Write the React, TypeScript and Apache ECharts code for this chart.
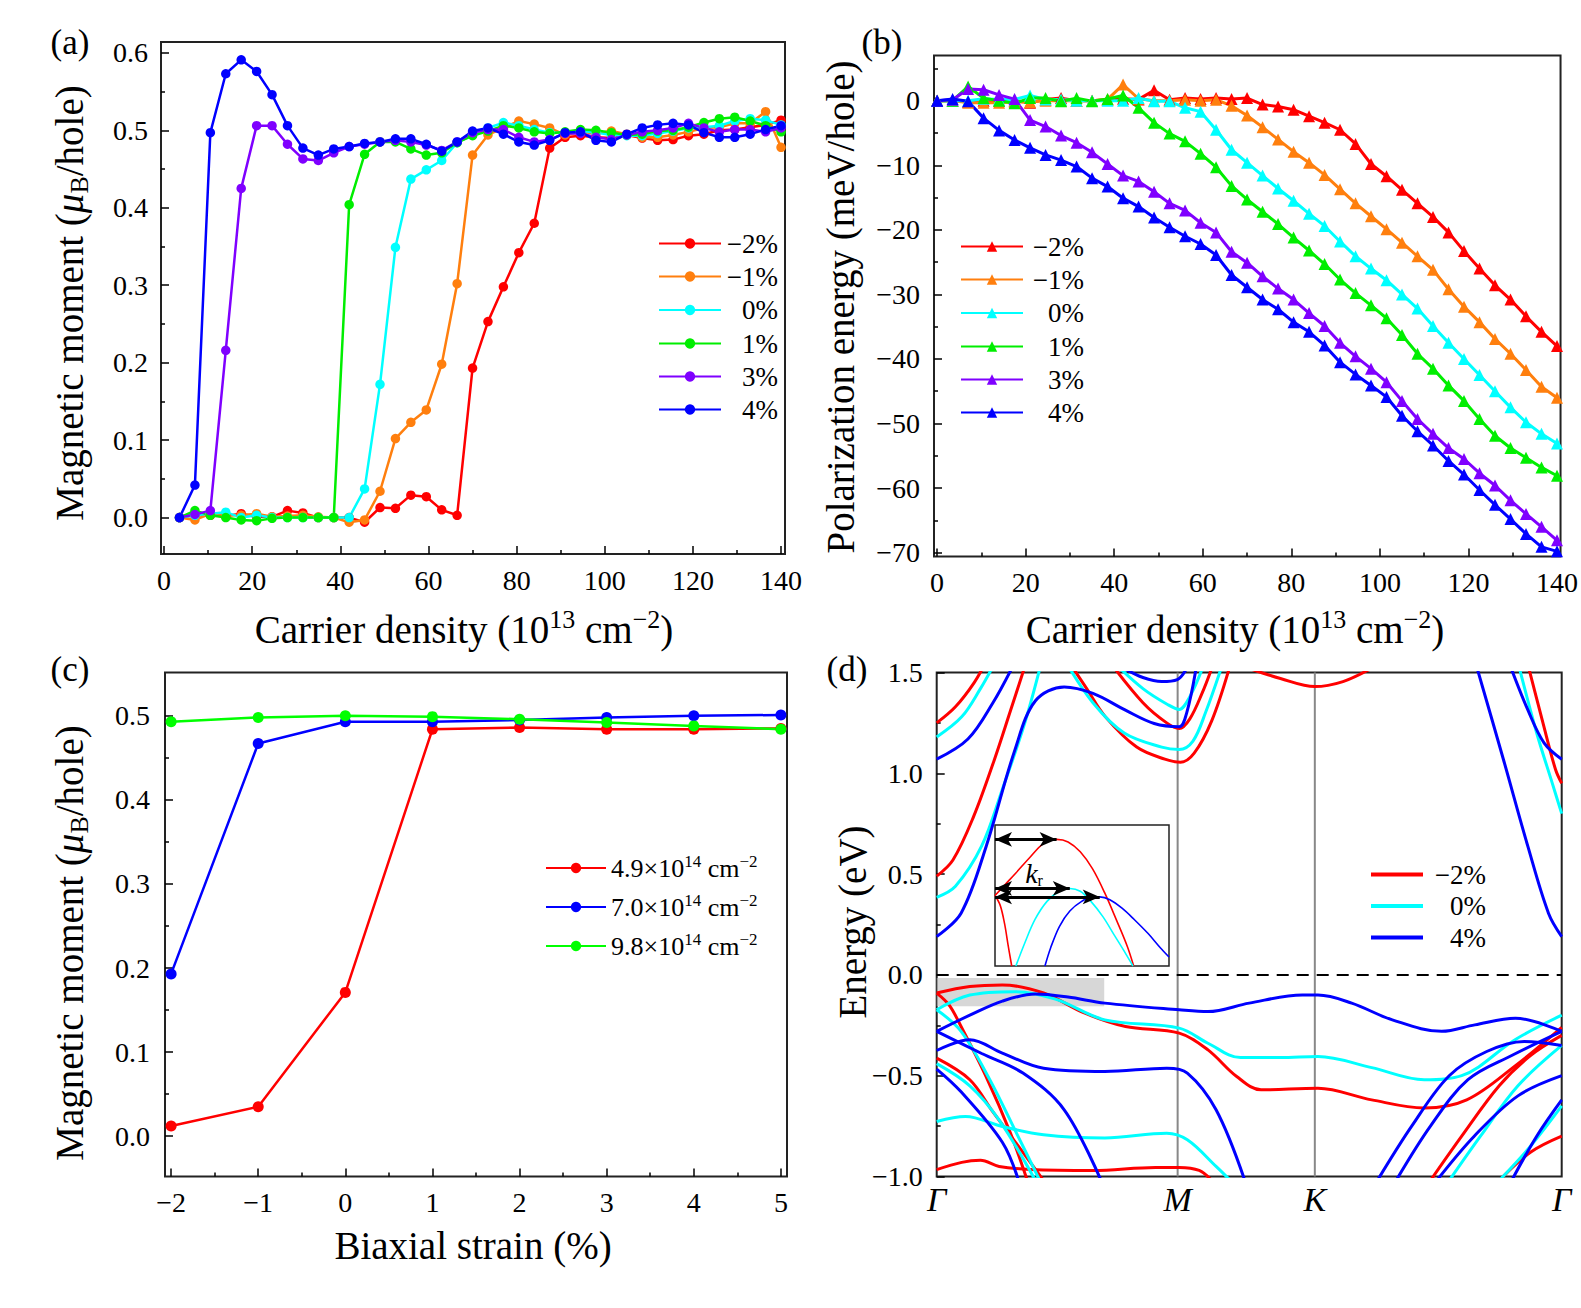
import React, { useEffect, useRef } from "react";
import * as echarts from "echarts";

const SERIF = '"Liberation Serif", "DejaVu Serif", serif';

const C_RED = "#ff0000";
const C_ORANGE = "#ff7f0e";
const C_CYAN = "#00ffff";
const C_GREEN = "#00ee00";
const C_PURPLE = "#7f00ff";
const C_BLUE = "#0000ff";

// ---------------- (a) magnetic moment vs carrier density ----------------
const densityA = [3.5, 7, 10.5, 14, 17.5, 21, 24.5, 28, 31.5, 35, 38.5, 42, 45.5, 49, 52.5, 56, 59.5, 63, 66.5, 70, 73.5, 77, 80.5, 84, 87.5, 91, 94.5, 98, 101.5, 105, 108.5, 112, 115.5, 119, 122.5, 126, 129.5, 133, 136.5, 140];
const momentM2 = [0, 0.003, 0.003, 0.002, 0.005, 0.001, 0.001, 0.009, 0.006, 0, 0, 0, -0.006, 0.013, 0.012, 0.029, 0.027, 0.01, 0.003, 0.193, 0.253, 0.298, 0.342, 0.38, 0.477, 0.491, 0.493, 0.491, 0.49, 0.494, 0.49, 0.487, 0.488, 0.493, 0.495, 0.5, 0.501, 0.504, 0.507, 0.513];
const momentM1 = [0, -0.003, 0.005, 0.003, 0.003, 0.005, 0.001, 0.002, 0.003, 0.001, 0, -0.006, -0.003, 0.034, 0.102, 0.123, 0.139, 0.198, 0.302, 0.468, 0.494, 0.503, 0.512, 0.508, 0.503, 0.494, 0.498, 0.496, 0.499, 0.495, 0.491, 0.491, 0.494, 0.498, 0.503, 0.504, 0.509, 0.509, 0.524, 0.478];
const moment0 = [0, 0.003, 0.005, 0.007, 0, 0.003, 0, 0, 0, 0, 0, 0, 0.037, 0.172, 0.349, 0.437, 0.449, 0.461, 0.484, 0.494, 0.503, 0.51, 0.506, 0.501, 0.497, 0.497, 0.499, 0.497, 0.494, 0.493, 0.493, 0.496, 0.499, 0.503, 0.504, 0.506, 0.512, 0.515, 0.513, 0.507];
const momentP1 = [0, 0.009, 0.003, 0, -0.003, -0.004, -0.001, 0, 0, 0, 0, 0.404, 0.469, 0.485, 0.485, 0.476, 0.468, 0.471, 0.484, 0.493, 0.499, 0.506, 0.503, 0.498, 0.496, 0.498, 0.501, 0.5, 0.497, 0.494, 0.495, 0.499, 0.5, 0.504, 0.51, 0.515, 0.517, 0.512, 0.506, 0.498];
const momentP3 = [0, 0.004, 0.009, 0.216, 0.425, 0.506, 0.506, 0.482, 0.463, 0.461, 0.471, 0.479, 0.482, 0.485, 0.487, 0.485, 0.481, 0.474, 0.485, 0.497, 0.501, 0.501, 0.491, 0.485, 0.488, 0.496, 0.496, 0.491, 0.488, 0.494, 0.498, 0.5, 0.503, 0.509, 0.503, 0.498, 0.501, 0.501, 0.498, 0.503];
const momentP4 = [0, 0.042, 0.497, 0.573, 0.591, 0.576, 0.546, 0.506, 0.477, 0.468, 0.476, 0.479, 0.483, 0.485, 0.489, 0.489, 0.482, 0.473, 0.485, 0.499, 0.503, 0.495, 0.485, 0.481, 0.487, 0.497, 0.498, 0.487, 0.485, 0.495, 0.503, 0.507, 0.509, 0.507, 0.497, 0.491, 0.491, 0.495, 0.501, 0.506];

// ---------------- (b) polarization energy vs carrier density ----------------
const densityB = [0, 3.5, 7, 10.5, 14, 17.5, 21, 24.5, 28, 31.5, 35, 38.5, 42, 45.5, 49, 52.5, 56, 59.5, 63, 66.5, 70, 73.5, 77, 80.5, 84, 87.5, 91, 94.5, 98, 101.5, 105, 108.5, 112, 115.5, 119, 122.5, 126, 129.5, 133, 136.5, 140];
const energyM2 = [0, 0, -0.2, 0, 0, 0, -0.3, 0.2, 0.4, 0, 0, 0.2, 0.3, 0.2, 1.6, 0.15, 0.4, 0.25, 0.4, 0.25, 0.4, -0.6, -0.9, -1.4, -2.4, -3.4, -4.5, -6.7, -9.8, -11.7, -13.8, -15.9, -18.0, -20.4, -23.3, -26.0, -28.6, -30.8, -33.4, -35.8, -38.0];
const energyM1 = [0, 0, -0.3, -0.3, -0.3, -0.2, -0.2, 0, 0, 0, 0, 0.2, 2.5, 0.3, 0, 0, 0.15, 0, 0.15, -0.8, -2.3, -4.1, -6.0, -7.9, -9.6, -11.5, -13.7, -15.9, -17.9, -19.9, -22.0, -24.1, -26.2, -29.2, -31.9, -34.3, -36.9, -39.2, -41.7, -44.3, -46.0];
const energy0 = [0, 0, 0, 0.3, 0.2, 0.2, 0.8, 0.2, 0.2, 0, 0, 0, 0, 0.4, -0.1, -0.1, -1.1, -1.7, -4.5, -7.6, -9.6, -11.6, -13.6, -15.5, -17.5, -19.4, -21.8, -24.1, -26.0, -27.8, -30.0, -32.2, -34.9, -37.5, -40.0, -42.5, -45.0, -47.5, -49.8, -51.6, -53.1];
const energyP1 = [0, 0, 2.2, 0.4, 0, -0.4, 0.4, 0.4, -0.1, 0.4, -0.1, 0.25, 0.8, -1.1, -3.4, -5.1, -6.3, -8.2, -10.3, -13.2, -15.3, -17.2, -19.1, -21.2, -23.2, -25.3, -27.7, -29.8, -31.7, -33.7, -36.3, -39.2, -41.5, -44.1, -46.5, -49.3, -51.9, -53.8, -55.3, -56.8, -58.1];
const energyP3 = [0, 0.15, 1.8, 1.7, 0.9, 0.25, -3.0, -4.0, -5.4, -6.5, -8.0, -9.8, -11.6, -12.5, -14.1, -15.9, -17.0, -18.9, -20.4, -23.4, -25.1, -27.2, -29.1, -30.8, -32.9, -34.9, -37.5, -39.6, -41.5, -43.6, -46.5, -49.3, -51.6, -53.8, -55.5, -57.7, -59.6, -61.9, -64.0, -66.0, -68.1];
const energyP4 = [0, 0.25, -0.1, -2.7, -4.6, -6.1, -7.3, -8.4, -9.2, -10.2, -12.0, -13.3, -15.1, -16.4, -18.1, -19.6, -21.0, -22.2, -23.9, -27.0, -28.9, -30.8, -32.3, -34.3, -35.8, -37.9, -40.5, -42.4, -44.1, -45.9, -48.8, -51.2, -53.4, -55.8, -57.9, -60.3, -62.6, -64.8, -67.1, -69.1, -69.8];

// ---------------- (c) magnetic moment vs biaxial strain ----------------
const strainC = [-2, -1, 0, 1, 2, 3, 4, 5];
const moment49 = [0.012, 0.035, 0.171, 0.484, 0.486, 0.484, 0.484, 0.485];
const moment70 = [0.193, 0.467, 0.493, 0.493, 0.495, 0.498, 0.5, 0.501];
const moment98 = [0.493, 0.498, 0.5, 0.499, 0.496, 0.492, 0.488, 0.484];

// ---------------- (d) band structure (k path fraction, energy eV) ----------------
const kPathTicks = [0, 0.3855, 0.605, 1];
const kPathLabels = ["Γ", "M", "K", "Γ"];

const redBands = [
  [[0, 1.25], [0.03, 1.33], [0.06, 1.45], [0.08, 1.56]],
  [[0, 0.49], [0.026, 0.57], [0.059, 0.785], [0.092, 1.065], [0.118, 1.31], [0.14, 1.52]],
  [[0.21, 1.56], [0.24, 1.42], [0.27, 1.28], [0.32, 1.13], [0.365, 1.07], [0.39, 1.055], [0.412, 1.1], [0.44, 1.26], [0.468, 1.52]],
  [[0.275, 1.56], [0.33, 1.35], [0.368, 1.25], [0.388, 1.222], [0.405, 1.27], [0.425, 1.4], [0.44, 1.52]],
  [[0.5, 1.52], [0.55, 1.47], [0.605, 1.43], [0.65, 1.455], [0.695, 1.52]],
  [[0.945, 1.55], [0.97, 1.25], [0.99, 1.02], [1.0, 0.95]],
  [[0, -0.09], [0.053, -0.058], [0.105, -0.05], [0.171, -0.09], [0.237, -0.19], [0.302, -0.256], [0.388, -0.289], [0.434, -0.372], [0.48, -0.504], [0.519, -0.57], [0.61, -0.562], [0.696, -0.62], [0.78, -0.66], [0.848, -0.62], [0.926, -0.45], [1.0, -0.26]],
  [[0, -0.09], [0.02, -0.15], [0.039, -0.256], [0.079, -0.504], [0.118, -0.785], [0.145, -1.02]],
  [[0, -0.413], [0.053, -0.52], [0.09, -0.68], [0.138, -0.88], [0.171, -1.02]],
  [[0, -0.966], [0.04, -0.93], [0.07, -0.92], [0.1, -0.95], [0.15, -0.965], [0.25, -0.97], [0.35, -0.955], [0.388, -0.955], [0.42, -0.97], [0.44, -1.02]],
  [[0.79, -1.02], [0.84, -0.8], [0.9, -0.55], [0.95, -0.4], [1.0, -0.3]],
  [[0.9, -1.02], [0.95, -0.88], [1.0, -0.8]],
];
const cyanBands = [
  [[0, 1.18], [0.04, 1.28], [0.07, 1.42], [0.09, 1.53]],
  [[0, 0.385], [0.03, 0.44], [0.072, 0.64], [0.105, 0.92], [0.14, 1.24], [0.165, 1.52]],
  [[0.205, 1.56], [0.25, 1.35], [0.3, 1.2], [0.36, 1.13], [0.388, 1.118], [0.41, 1.16], [0.43, 1.3], [0.455, 1.52]],
  [[0.28, 1.56], [0.33, 1.42], [0.37, 1.34], [0.388, 1.317], [0.405, 1.38], [0.425, 1.52]],
  [[0.93, 1.55], [0.96, 1.2], [0.985, 0.95], [1.0, 0.8]],
  [[0, -0.173], [0.053, -0.1], [0.125, -0.083], [0.19, -0.12], [0.269, -0.223], [0.388, -0.264], [0.434, -0.339], [0.486, -0.41], [0.55, -0.41], [0.61, -0.405], [0.696, -0.46], [0.78, -0.52], [0.84, -0.5], [0.926, -0.32], [1.0, -0.2]],
  [[0, -0.173], [0.039, -0.28], [0.085, -0.52], [0.13, -0.8], [0.165, -1.02]],
  [[0, -0.44], [0.053, -0.55], [0.1, -0.72], [0.158, -1.02]],
  [[0, -0.727], [0.046, -0.702], [0.105, -0.752], [0.171, -0.793], [0.269, -0.809], [0.368, -0.785], [0.401, -0.818], [0.447, -0.95], [0.47, -1.02]],
  [[0.82, -1.02], [0.87, -0.8], [0.93, -0.55], [1.0, -0.35]],
  [[0.9, -1.02], [0.95, -0.85], [1.0, -0.65]],
];
const blueBands = [
  [[0, 1.07], [0.05, 1.17], [0.09, 1.35], [0.12, 1.52]],
  [[0, 0.19], [0.039, 0.306], [0.079, 0.636], [0.125, 1.115], [0.158, 1.36], [0.204, 1.428], [0.25, 1.396], [0.302, 1.313], [0.348, 1.247], [0.388, 1.231], [0.4, 1.3], [0.415, 1.52]],
  [[0.3, 1.52], [0.33, 1.475], [0.36, 1.455], [0.385, 1.465], [0.4, 1.52]],
  [[0.862, 1.55], [0.907, 1.066], [0.946, 0.636], [0.979, 0.305], [1.0, 0.19]],
  [[0.918, 1.53], [0.946, 1.313], [0.972, 1.15], [1.0, 1.07]],
  [[0, -0.28], [0.053, -0.2], [0.105, -0.13], [0.158, -0.095], [0.21, -0.11], [0.269, -0.14], [0.388, -0.173], [0.434, -0.182], [0.5, -0.14], [0.585, -0.1], [0.61, -0.1], [0.664, -0.14], [0.729, -0.223], [0.808, -0.28], [0.861, -0.248], [0.926, -0.215], [1.0, -0.28]],
  [[0, -0.375], [0.053, -0.322], [0.105, -0.388], [0.171, -0.463], [0.269, -0.479], [0.368, -0.463], [0.401, -0.487], [0.447, -0.669], [0.493, -1.02]],
  [[0, -0.28], [0.072, -0.39], [0.138, -0.487], [0.204, -0.669], [0.263, -1.02]],
  [[0, -0.467], [0.039, -0.58], [0.105, -0.83], [0.131, -1.02]],
  [[0.705, -1.02], [0.76, -0.75], [0.82, -0.5], [0.88, -0.38], [0.94, -0.33], [1.0, -0.35]],
  [[0.735, -1.02], [0.79, -0.75], [0.85, -0.52], [0.92, -0.4], [1.0, -0.28]],
  [[0.8, -1.02], [0.86, -0.8], [0.93, -0.6], [1.0, -0.5]],
  [[0.92, -1.02], [0.96, -0.8], [1.0, -0.62]],
];

// inset (zoom of the valence-band top near Γ)
const insetRedSteep = [[0, 0.5], [0.03, 0.43], [0.055, 0.3], [0.075, 0.15], [0.096, 0]];
const insetRed = [[0, 0.5], [0.06, 0.58], [0.12, 0.66], [0.2, 0.77], [0.28, 0.87], [0.354, 0.898], [0.42, 0.88], [0.49, 0.81], [0.56, 0.69], [0.63, 0.52], [0.7, 0.32], [0.76, 0.14], [0.797, 0]];
const insetCyan = [[0.12, 0], [0.17, 0.16], [0.23, 0.33], [0.3, 0.46], [0.37, 0.53], [0.43, 0.55], [0.49, 0.53], [0.55, 0.46], [0.62, 0.35], [0.69, 0.21], [0.75, 0.09], [0.793, 0]];
const insetBlue = [[0.287, 0], [0.32, 0.13], [0.37, 0.28], [0.43, 0.39], [0.5, 0.46], [0.56, 0.49], [0.602, 0.49], [0.66, 0.47], [0.73, 0.41], [0.8, 0.33], [0.88, 0.23], [0.95, 0.13], [1.0, 0.064]];
const insetArrows = [
  [[0, 0.898], [0.354, 0.898]],
  [[0, 0.55], [0.43, 0.55]],
  [[0, 0.49], [0.602, 0.49]],
];

// tick values
const ticksDensity = [0, 20, 40, 60, 80, 100, 120, 140];
const minorDensity = [10, 30, 50, 70, 90, 110, 130];
const ticksMomentA = [0, 0.1, 0.2, 0.3, 0.4, 0.5, 0.6];
const minorMomentA = [-0.05, 0.05, 0.15, 0.25, 0.35, 0.45, 0.55];
const ticksEnergyB = [0, -10, -20, -30, -40, -50, -60, -70];
const minorEnergyB = [5, -5, -15, -25, -35, -45, -55, -65];
const ticksStrain = [-2, -1, 0, 1, 2, 3, 4, 5];
const minorStrain = [-1.5, -0.5, 0.5, 1.5, 2.5, 3.5, 4.5];
const ticksMomentC = [0, 0.1, 0.2, 0.3, 0.4, 0.5];
const minorMomentC = [0.05, 0.15, 0.25, 0.35, 0.45];
const ticksBand = [-1, -0.5, 0, 0.5, 1, 1.5];
const minorBand = [-0.75, -0.25, 0.25, 0.75, 1.25];

const fmt1 = (v: number) => (v < 0 ? "−" : "") + Math.abs(v).toFixed(1);
const fmt0 = (v: number) => (v < 0 ? "−" : "") + Math.abs(Math.round(v)).toString();

const TICK_FS = 28;

function zip(xs: number[], ys: number[]) {
  return xs.map((x, i) => [x, ys[i]]);
}

function mainAxis(dim: "x" | "y", gridIndex: number, min: number, max: number, majors: number[], fmt: (v: number) => string, margin: number, extra: any = {}) {
  return {
    type: "value",
    gridIndex,
    min,
    max,
    position: dim === "x" ? "bottom" : "left",
    axisLine: { show: false, onZero: false },
    splitLine: { show: false },
    axisTick: { show: true, inside: true, length: 8, customValues: majors, lineStyle: { color: "#000", width: 1.5 } },
    axisLabel: { show: true, customValues: majors, formatter: fmt, fontFamily: SERIF, fontSize: TICK_FS, color: "#000", margin },
    ...extra,
  };
}
function minorAxis(dim: "x" | "y", gridIndex: number, min: number, max: number, minors: number[]) {
  return {
    type: "value",
    gridIndex,
    min,
    max,
    position: dim === "x" ? "bottom" : "left",
    axisLine: { show: false, onZero: false },
    splitLine: { show: false },
    axisTick: { show: true, inside: true, length: 4, customValues: minors, lineStyle: { color: "#000", width: 1.5 } },
    axisLabel: { show: false },
  };
}

function markerSeries(name: string, data: number[][], color: string, xi: number, yi: number, symbol: string, size: number, width: number) {
  return {
    type: "line",
    name,
    xAxisIndex: xi,
    yAxisIndex: yi,
    data,
    symbol,
    symbolSize: size,
    showAllSymbol: true,
    lineStyle: { color, width },
    itemStyle: { color },
    silent: true,
    clip: true,
  };
}

function bandSeries(name: string, data: number[][], color: string, xi = 6, yi = 6, width = 3) {
  return {
    type: "line",
    name,
    xAxisIndex: xi,
    yAxisIndex: yi,
    data,
    symbol: "none",
    smooth: 0.35,
    lineStyle: { color, width },
    itemStyle: { color },
    silent: true,
    clip: true,
  };
}

function legendItem(name: string, label: string, left: number, rowY: number, iconW: number, textW: number, align: "left" | "right", fontSize = 27, extra: any = {}) {
  return {
    show: true,
    data: [name],
    left,
    top: rowY - 15,
    orient: "horizontal",
    itemWidth: iconW,
    itemHeight: 13,
    itemGap: 0,
    padding: 0,
    selectedMode: false,
    formatter: () => label,
    textStyle: {
      fontFamily: SERIF,
      fontSize,
      color: "#000",
      rich: {
        r: { width: textW, align, fontFamily: SERIF, fontSize, lineHeight: 30, color: "#000" },
        n: { fontFamily: SERIF, fontSize: 26, lineHeight: 30, color: "#000" },
        s: { fontFamily: SERIF, fontSize: 17, lineHeight: 17, verticalAlign: "top", color: "#000" },
      },
    },
    ...extra,
  };
}

function text(x: number, y: number, t: string, fontSize: number, rich: any = null, rotation = 0, extra: any = {}) {
  return {
    type: "text",
    x,
    y,
    rotation,
    silent: true,
    z: 50,
    style: {
      text: t,
      fontFamily: SERIF,
      fontSize,
      fill: "#000",
      align: "center",
      verticalAlign: "middle",
      textAlign: "center",
      textVerticalAlign: "middle",
      ...(rich ? { rich } : {}),
      ...extra,
    },
  };
}

const TITLE_FS = 39;
const titleRich = {
  n: { fontFamily: SERIF, fontSize: TITLE_FS, lineHeight: 46, color: "#000" },
  i: { fontFamily: SERIF, fontSize: TITLE_FS, lineHeight: 46, fontStyle: "italic", color: "#000" },
  b: { fontFamily: SERIF, fontSize: 26, lineHeight: 28, verticalAlign: "bottom", color: "#000" },
  s: { fontFamily: SERIF, fontSize: 26, lineHeight: 26, verticalAlign: "top", color: "#000" },
};

function buildOption(): any {
  const grids = [
    { left: 161, top: 42, width: 624, height: 512 },
    { left: 934, top: 55.5, width: 628, height: 501 },
    { left: 165, top: 672.5, width: 622, height: 504 },
    { left: 936.7, top: 672.5, width: 625, height: 504 },
    { left: 995, top: 825, width: 174, height: 141 },
  ].map((g, i) => ({
    ...g,
    show: true,
    borderColor: "#222",
    borderWidth: i === 4 ? 1.5 : 2,
    backgroundColor: i === 4 ? "#fff" : "transparent",
    containLabel: false,
  }));

  const xAxis = [
    mainAxis("x", 0, -0.7, 140.9, ticksDensity, fmt0, 12),
    minorAxis("x", 0, -0.7, 140.9, minorDensity),
    mainAxis("x", 1, -0.7, 140.8, ticksDensity, fmt0, 12),
    minorAxis("x", 1, -0.7, 140.8, minorDensity),
    mainAxis("x", 2, -2.07, 5.07, ticksStrain, fmt0, 12),
    minorAxis("x", 2, -2.07, 5.07, minorStrain),
    {
      type: "value",
      gridIndex: 3,
      min: 0,
      max: 1,
      position: "bottom",
      axisLine: { show: false, onZero: false },
      splitLine: { show: false },
      axisTick: { show: false },
      axisLabel: {
        show: true,
        customValues: kPathTicks,
        formatter: (v: number) => kPathLabels[kPathTicks.indexOf(v)] ?? "",
        fontFamily: SERIF,
        fontSize: 34,
        fontStyle: "italic",
        color: "#000",
        margin: 6,
      },
    },
    { type: "value", gridIndex: 4, min: 0, max: 1, show: false, axisLine: { onZero: false } },
  ];

  const yAxis = [
    mainAxis("y", 0, -0.047, 0.614, ticksMomentA, fmt1, 13),
    minorAxis("y", 0, -0.047, 0.614, minorMomentA),
    mainAxis("y", 1, -70.6, 7, ticksEnergyB, fmt0, 14),
    minorAxis("y", 1, -70.6, 7, minorEnergyB),
    mainAxis("y", 2, -0.048, 0.5515, ticksMomentC, fmt1, 15),
    minorAxis("y", 2, -0.048, 0.5515, minorMomentC),
    mainAxis("y", 3, -1, 1.5, ticksBand, fmt1, 14),
    minorAxis("y", 3, -1, 1.5, minorBand),
    { type: "value", gridIndex: 4, min: 0, max: 1, show: false, axisLine: { onZero: false } },
  ];

  const series: any[] = [];
  // (a)
  const aDefs: [string, number[], string][] = [
    ["a:−2%", momentM2, C_RED],
    ["a:−1%", momentM1, C_ORANGE],
    ["a:0%", moment0, C_CYAN],
    ["a:1%", momentP1, C_GREEN],
    ["a:3%", momentP3, C_PURPLE],
    ["a:4%", momentP4, C_BLUE],
  ];
  aDefs.forEach(([n, ys, c]) => series.push(markerSeries(n, zip(densityA, ys), c, 0, 0, "circle", 9.5, 2.5)));
  // (b)
  const bDefs: [string, number[], string][] = [
    ["b:−2%", energyM2, C_RED],
    ["b:−1%", energyM1, C_ORANGE],
    ["b:0%", energy0, C_CYAN],
    ["b:1%", energyP1, C_GREEN],
    ["b:3%", energyP3, C_PURPLE],
    ["b:4%", energyP4, C_BLUE],
  ];
  bDefs.forEach(([n, ys, c]) => series.push(markerSeries(n, zip(densityB, ys), c, 2, 2, "triangle", 12, 3)));
  // (c)
  const cDefs: [string, number[], string][] = [
    ["c:4.9", moment49, C_RED],
    ["c:7.0", moment70, C_BLUE],
    ["c:9.8", moment98, "#00ff00"],
  ];
  cDefs.forEach(([n, ys, c]) => series.push(markerSeries(n, zip(strainC, ys), c, 4, 4, "circle", 11, 2.5)));
  // (d)
  redBands.forEach((b) => series.push(bandSeries("d:−2%", b, C_RED)));
  cyanBands.forEach((b) => series.push(bandSeries("d:0%", b, C_CYAN)));
  blueBands.forEach((b) => series.push(bandSeries("d:4%", b, C_BLUE)));
  // high-symmetry lines
  series.push({
    type: "line", name: "kline-M", xAxisIndex: 6, yAxisIndex: 6, data: [[kPathTicks[1], -1], [kPathTicks[1], 1.5]],
    symbol: "none", lineStyle: { color: "#888", width: 2 }, silent: true, z: 1,
  });
  series.push({
    type: "line", name: "kline-K", xAxisIndex: 6, yAxisIndex: 6, data: [[kPathTicks[2], -1], [kPathTicks[2], 1.5]],
    symbol: "none", lineStyle: { color: "#888", width: 2 }, silent: true, z: 1,
  });
  // Fermi level
  series.push({
    type: "line", name: "fermi", xAxisIndex: 6, yAxisIndex: 6, data: [[0, 0], [1, 0]],
    symbol: "none", lineStyle: { color: "#000", width: 2, type: [12, 8] }, silent: true, z: 3,
  });
  // shaded region
  series.push({
    type: "line", name: "shade", xAxisIndex: 6, yAxisIndex: 6, data: [], z: 5, silent: true,
    markArea: {
      silent: true,
      itemStyle: { color: "rgba(190,190,190,0.62)" },
      data: [[{ coord: [0, -0.015] }, { coord: [0.268, -0.155] }]],
    },
  });
  // inset
  series.push(bandSeries("inset-red-steep", insetRedSteep, C_RED, 7, 8, 1.6));
  series.push(bandSeries("inset-red", insetRed, C_RED, 7, 8, 1.6));
  series.push(bandSeries("inset-cyan", insetCyan, C_CYAN, 7, 8, 1.6));
  series.push({
    ...bandSeries("inset-blue", insetBlue, C_BLUE, 7, 8, 1.6),
    markLine: {
      silent: true,
      symbol: ["arrow", "arrow"],
      symbolSize: [11, 17],
      label: { show: false },
      lineStyle: { color: "#000", width: 3, type: "solid" },
      data: insetArrows.map((a) => [{ coord: a[0] }, { coord: a[1] }]),
    },
  });

  const legend: any[] = [];
  const aRows = [245, 278, 311.5, 345, 378, 411];
  aDefs.forEach(([n], i) => legend.push(legendItem(n, `{r|${n.slice(2)}}`, 658, aRows[i], 62, 52, "right")));
  const bRows = [248, 281, 314.5, 348, 381, 414];
  bDefs.forEach(([n], i) => legend.push(legendItem(n, `{r|${n.slice(2)}}`, 960, bRows[i], 62, 56, "right")));
  const cRows = [868, 907, 946];
  cDefs.forEach(([n], i) => legend.push(legendItem(n, `{n|${n.slice(2)}×10}{s|14}{n| cm}{s|−2}`, 545, cRows[i], 60, 170, "left")));
  const dRows = [876, 907.5, 939];
  ["d:−2%", "d:0%", "d:4%"].forEach((n, i) =>
    legend.push(legendItem(n, `{r|${n.slice(2)}}`, 1371, dRows[i], 52, 58, "right", 27, { icon: "rect", itemHeight: 4 }))
  );

  const graphic = [
    text(70, 42, "(a)", 35),
    text(882, 42, "(b)", 35),
    text(70, 669, "(c)", 35),
    text(847, 669, "(d)", 35),
    text(69, 303, "{n|Magnetic moment (}{i|μ}{b|B}{n|/hole)}", TITLE_FS, titleRich, Math.PI / 2),
    text(840, 307, "{n|Polarization energy (meV/hole)}", TITLE_FS, titleRich, Math.PI / 2),
    text(69, 943, "{n|Magnetic moment (}{i|μ}{b|B}{n|/hole)}", TITLE_FS, titleRich, Math.PI / 2),
    text(852, 922, "{n|Energy (eV)}", TITLE_FS, titleRich, Math.PI / 2),
    text(464, 629, "{n|Carrier density (10}{s|13}{n| cm}{s|−2}{n|)}", TITLE_FS, titleRich),
    text(1235, 629, "{n|Carrier density (10}{s|13}{n| cm}{s|−2}{n|)}", TITLE_FS, titleRich),
    text(473, 1245, "{n|Biaxial strain (%)}", TITLE_FS, titleRich),
    text(1034, 873, "{k|k}{r|r}", 26, {
      k: { fontFamily: SERIF, fontSize: 28, fontStyle: "italic", lineHeight: 30, color: "#000" },
      r: { fontFamily: SERIF, fontSize: 16, lineHeight: 16, verticalAlign: "bottom", color: "#000" },
    }),
  ];

  return {
    animation: false,
    backgroundColor: "#fff",
    grid: grids,
    xAxis,
    yAxis,
    series,
    legend,
    graphic,
  };
}

export default function App() {
  const ref = useRef<HTMLDivElement>(null);
  useEffect(() => {
    document.body.style.margin = "0";
    const chart = echarts.init(ref.current!, null, { renderer: "svg" });
    chart.setOption(buildOption());
    return () => chart.dispose();
  }, []);
  return <div ref={ref} style={{ width: 1581, height: 1308, background: "#fff" }} />;
}
